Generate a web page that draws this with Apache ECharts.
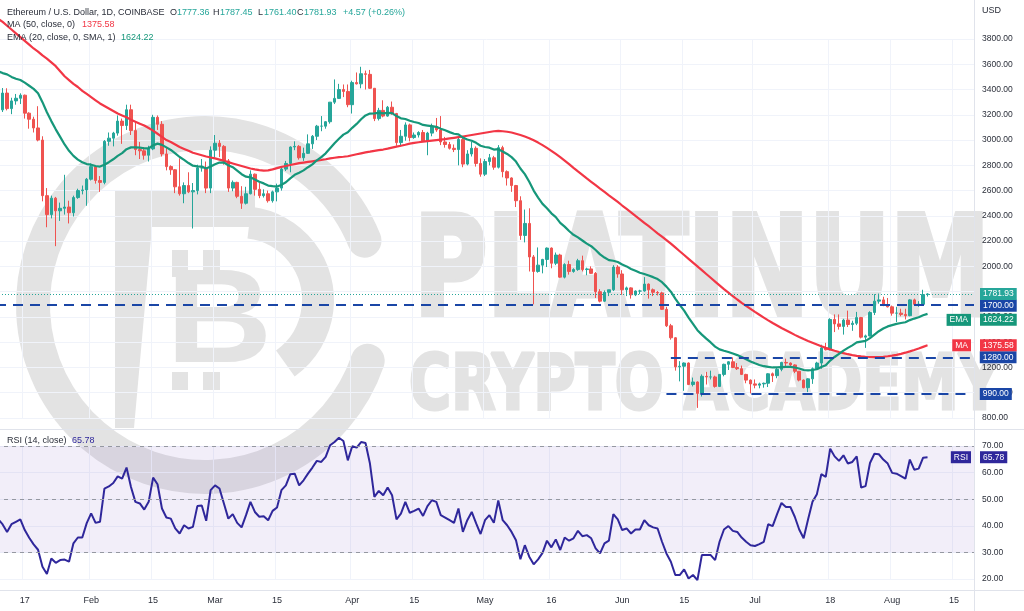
<!DOCTYPE html>
<html>
<head>
<meta charset="utf-8">
<script src="https://cdn.jsdelivr.net/npm/echarts/dist/echarts.min.js"></script>
<style>
  html, body { margin: 0; padding: 0; background: #fff; }
  #chart { width: 1024px; height: 611px; }
</style>
</head>
<body>
<div id="chart"></div>
<script>
// daily candles Jan 11 .. Aug 9 2022, [open, high, low, close]
const candles = [
  // Jan 11-31
  [3081,3260,3060,3239],[3239,3412,3222,3372],[3372,3410,3235,3249],[3249,3335,3205,3310],[3310,3365,3280,3331],
  [3331,3370,3285,3355],[3355,3360,3170,3213],[3213,3220,3090,3165],[3165,3185,3060,3096],[3096,3268,2990,3000],
  [3000,3030,2515,2560],[2560,2620,2310,2410],[2410,2560,2380,2540],[2540,2550,2160,2440],[2440,2505,2360,2460],
  [2460,2725,2410,2470],[2470,2520,2340,2425],[2425,2560,2395,2545],[2545,2615,2535,2600],[2600,2640,2570,2605],
  [2605,2700,2480,2690],
  // Feb
  [2690,2815,2680,2790],[2790,2795,2655,2680],[2680,2715,2590,2665],[2665,3000,2650,2990],[2990,3060,2955,3015],
  [3015,3065,2950,3055],[3055,3195,3035,3150],[3150,3170,2970,3115],[3115,3280,3080,3240],[3240,3280,3040,3075],
  [3075,3140,2880,2925],[2925,2985,2850,2915],[2915,2945,2845,2880],[2880,2955,2830,2930],[2930,3200,2920,3180],
  [3180,3195,3080,3125],[3125,3150,2870,2890],[2890,2940,2760,2790],[2790,2800,2725,2765],[2765,2770,2580,2630],
  [2630,2855,2560,2575],[2575,2665,2500,2640],[2640,2745,2580,2590],[2590,2660,2300,2600],[2600,2805,2570,2780],
  [2780,2850,2750,2780],[2780,2830,2580,2620],[2620,2950,2580,2920],
  // Mar
  [2920,3040,2860,2975],[2975,3000,2865,2950],[2950,2960,2805,2835],[2835,2850,2590,2620],[2620,2680,2595,2665],
  [2665,2670,2540,2555],[2555,2635,2455,2500],[2500,2630,2490,2575],[2575,2760,2570,2730],[2730,2735,2560,2610],
  [2610,2660,2540,2560],[2560,2610,2545,2575],[2575,2600,2505,2520],[2520,2600,2505,2590],[2590,2655,2515,2620],
  [2620,2780,2600,2770],[2770,2835,2755,2815],[2815,2950,2745,2945],[2945,2990,2920,2950],[2950,2960,2845,2860],
  [2860,2940,2835,2895],[2895,3045,2890,2970],[2970,3040,2930,3030],[3030,3120,3000,3110],[3110,3190,3070,3110],
  [3110,3150,3090,3145],[3145,3300,3130,3300],[3300,3480,3285,3330],[3330,3445,3325,3400],[3400,3440,3340,3385],
  [3385,3440,3260,3280],
  // Apr
  [3280,3470,3210,3455],[3455,3535,3440,3445],[3445,3580,3410,3525],[3525,3550,3400,3520],[3520,3555,3405,3410],
  [3410,3410,3150,3170],[3170,3255,3155,3235],[3235,3315,3180,3190],[3190,3270,3185,3260],[3260,3305,3200,3210],
  [3210,3215,2955,2980],[2980,3080,2950,3030],[3030,3140,2995,3120],[3120,3130,2990,3020],[3020,3060,3010,3040],
  [3040,3070,3020,3060],[3060,3080,2985,2990],[2990,3065,2880,3055],[3055,3130,3030,3105],[3105,3175,3065,3080],
  [3080,3190,2960,2985],[2985,3025,2940,2965],[2965,2985,2925,2935],[2935,2965,2905,2925],[2925,3020,2800,3005],
  [3005,3035,2785,2810],[2810,2920,2800,2890],[2890,2985,2870,2935],[2935,2950,2790,2815],[2815,2855,2710,2730],
  // May
  [2730,2850,2715,2830],[2830,2890,2800,2860],[2860,2875,2765,2785],[2785,2960,2775,2940],[2940,2955,2705,2750],
  [2750,2760,2640,2700],[2700,2705,2590,2640],[2640,2645,2470,2520],[2520,2555,2210,2245],[2245,2450,2190,2340],
  [2340,2460,1960,2075],[2075,2090,1700,1960],[1960,2150,1950,2010],[2010,2060,1945,2055],[2055,2150,1995,2145],
  [2145,2150,1985,2025],[2025,2110,2010,2090],[2090,2100,1910,1915],[1915,2025,1905,2015],[2015,2045,1935,1960],
  [1960,1985,1950,1975],[1975,2060,1965,2045],[2045,2085,1960,1975],[1975,1990,1930,1980],[1980,2000,1940,1945],
  [1945,1955,1750,1800],[1800,1820,1715,1725],[1725,1810,1720,1795],[1795,1815,1765,1815],[1815,2010,1805,1995],
  [1995,2010,1910,1940],
  // Jun
  [1940,1970,1775,1815],[1815,1840,1765,1830],[1830,1835,1745,1775],[1775,1810,1765,1805],[1805,1815,1780,1805],
  [1805,1915,1800,1860],[1860,1865,1745,1815],[1815,1825,1765,1795],[1795,1805,1770,1790],[1790,1800,1655,1660],
  [1660,1680,1520,1530],[1530,1545,1420,1435],[1435,1440,1175,1205],[1205,1250,1090,1210],[1210,1240,1015,1235],
  [1235,1240,1060,1065],[1065,1120,1050,1085],[1085,1090,880,995],[995,1145,970,1130],[1130,1165,1065,1125],
  [1125,1175,1105,1125],[1125,1135,1040,1050],[1050,1145,1045,1145],[1145,1230,1130,1225],[1225,1250,1180,1245],
  [1245,1280,1195,1200],[1200,1235,1180,1190],[1190,1215,1140,1145],[1145,1150,1075,1100],[1100,1105,995,1070],
  // Jul
  [1070,1105,1035,1060],[1060,1080,1035,1070],[1070,1080,1040,1075],[1075,1155,1045,1150],[1150,1160,1085,1135],
  [1135,1195,1115,1185],[1185,1245,1170,1240],[1240,1270,1200,1235],[1235,1240,1205,1220],[1220,1225,1155,1170],
  [1170,1170,1090,1100],[1100,1105,1035,1040],[1040,1115,1005,1110],[1110,1200,1070,1190],[1190,1245,1180,1235],
  [1235,1380,1190,1355],[1355,1395,1335,1340],[1340,1590,1335,1580],[1580,1620,1480,1545],[1545,1620,1500,1525],
  [1525,1585,1460,1575],[1575,1650,1520,1540],[1540,1570,1490,1550],[1550,1640,1535,1595],[1595,1600,1430,1440],
  [1440,1460,1355,1450],[1450,1645,1445,1635],[1635,1780,1615,1725],[1725,1785,1705,1735],[1735,1760,1685,1695],
  [1695,1750,1675,1680],
  // Aug 1-9
  [1680,1690,1610,1630],[1630,1680,1560,1630],[1630,1665,1605,1620],[1620,1665,1580,1610],[1610,1740,1605,1735],
  [1735,1745,1690,1700],[1700,1725,1680,1700],[1700,1815,1695,1777.36],[1777.36,1787.45,1761.40,1781.93]
];

// MA (50)
const maValues = [
  3960,3935,3905,3875,3845,3815,3785,3755,3725,3700,3670,3645,3615,3585,3545,3505,3475,3445,3420,3390,3365,
  3340,3315,3290,3270,3250,3230,3210,3195,3180,3160,3145,3130,3115,3095,3075,3050,3025,3000,2985,2965,2945,2930,2915,2900,2890,2880,2870,2862,
  2855,2845,2835,2825,2815,2805,2795,2785,2775,2768,2762,2758,2760,2768,2778,2788,2795,2803,2810,2817,2822,2827,2832,2837,2842,2848,2855,2860,2865,2868,2872,
  2880,2888,2895,2902,2908,2915,2920,2925,2932,2940,2948,2955,2963,2972,2978,2983,2988,2992,2996,3000,3004,3008,3013,3018,3023,3028,3034,3040,3046,3052,
  3058,3064,3070,3072,3070,3066,3060,3050,3040,3028,3015,2998,2980,2960,2938,2915,2890,2865,2838,2810,2780,2752,2725,2697,2670,2643,2616,2590,2563,2537,2510,
  2482,2455,2428,2400,2373,2345,2318,2290,2262,2235,2208,2180,2150,2120,2090,2060,2030,2000,1970,1940,1910,1880,1850,1820,1792,1765,1738,1712,1688,1664,
  1640,1617,1595,1573,1552,1532,1512,1494,1476,1458,1441,1425,1410,1396,1382,1368,1355,1343,1332,1322,1313,1305,1298,1292,1288,1285,1283,1282,1283,1285,1289,
  1294,1300,1308,1317,1327,1338,1350,1363,1375.58
];

// EMA (20)
const emaValues = [
  3545,3530,3520,3500,3485,3475,3455,3430,3405,3370,3300,3220,3150,3085,3025,2965,2915,2875,2845,2825,2810,
  2805,2795,2790,2805,2825,2848,2875,2897,2928,2942,2942,2940,2935,2935,2958,2972,2962,2942,2922,2895,2866,2843,2818,2797,2792,2790,2775,2790,
  2808,2822,2822,2800,2785,2758,2730,2710,2705,2688,2670,2657,2640,2635,2632,2645,2666,2697,2725,2742,2760,2785,2808,2840,2865,2895,2935,2975,3010,3043,3062,
  3097,3128,3165,3195,3210,3212,3215,3212,3215,3213,3190,3172,3167,3153,3143,3135,3120,3115,3110,3105,3090,3077,3063,3050,3045,3020,3005,2995,2978,2955,
  2945,2940,2925,2928,2910,2890,2865,2830,2775,2730,2670,2600,2545,2495,2460,2420,2390,2345,2315,2280,2250,2230,2205,2180,2160,2130,2095,2070,2050,2045,2035,
  2015,2000,1980,1965,1950,1940,1928,1915,1900,1875,1840,1800,1745,1695,1650,1595,1545,1495,1460,1428,1398,1365,1343,1332,1322,1310,1298,1283,1265,1248,
  1233,1220,1210,1205,1200,1200,1203,1205,1205,1200,1192,1180,1177,1180,1186,1203,1218,1255,1283,1308,1333,1355,1375,1398,1405,1410,1432,1460,1487,1508,1525,
  1535,1545,1552,1558,1575,1587,1597,1613,1624.22
];

// RSI (14)
const rsiValues = [
  42.5,40.5,37.7,40.6,41.5,42.4,38.4,35.5,33.0,31.0,24.6,21.9,27.7,26.1,27.1,27.3,26.5,33.4,35.6,35.6,41.0,
  44.7,41.1,41.5,54.0,54.8,56.1,58.6,57.7,61.9,54.6,49.0,48.4,46.1,49.0,58.1,55.6,46.5,43.1,42.7,39.0,37.1,40.2,39.0,39.6,47.4,47.6,41.9,53.4,
  55.2,54.0,48.4,42.7,44.4,41.1,39.4,44.0,49.0,45.2,43.4,43.6,42.1,45.6,46.9,53.4,55.2,59.4,59.6,55.2,57.1,59.6,61.9,64.4,64.0,65.9,70.3,71.5,73.1,71.9,64.6,
  69.9,69.4,71.5,71.1,63.4,50.9,53.1,51.5,54.4,51.5,42.4,44.6,49.0,44.9,45.6,46.5,43.7,47.4,49.6,49.0,44.0,43.1,42.1,41.1,46.5,37.7,42.1,45.2,40.9,36.9,
  42.1,44.0,41.1,49.5,42.1,40.2,37.7,34.6,27.4,32.7,28.4,25.5,27.4,29.8,34.4,31.9,34.9,30.9,35.6,34.4,35.3,38.1,36.1,36.5,35.3,31.5,29.6,33.4,34.4,44.4,42.4,
  38.4,39.0,37.1,38.6,38.6,42.1,40.2,39.4,39.0,34.0,29.6,26.5,21.5,21.5,23.6,20.2,21.5,19.6,29.0,29.0,29.0,27.1,34.0,38.6,39.9,38.1,37.7,35.6,34.0,32.7,
  32.4,33.1,34.0,40.6,39.9,44.4,48.6,47.1,47.1,43.4,38.6,35.3,42.4,49.0,51.9,59.4,58.4,69.0,66.1,64.4,66.5,63.4,64.0,66.1,54.4,54.9,63.6,67.1,66.9,64.9,63.4,
  59.9,59.6,58.7,57.7,64.9,61.1,61.5,65.6,65.78
];

// horizontal levels drawn on the chart
const levelFull = 1700;
const levelShort = [ { from: '2022-06-12', value: 1280 }, { from: '2022-06-11', value: 990 } ];

// time axis ticks
const tickDates = ['2022-01-17','2022-02-01','2022-02-15','2022-03-01','2022-03-15','2022-04-01','2022-04-15',
  '2022-05-01','2022-05-16','2022-06-01','2022-06-15','2022-07-01','2022-07-18','2022-08-01','2022-08-15'];
const tickTexts = ['17','Feb','15','Mar','15','Apr','15','May','16','Jun','15','Jul','18','Aug','15'];

// category days, Jan 11 to Aug 19 (last 10 empty)
const dates = [];
for (let i = 0; i < 221; i++) {
  dates.push(new Date(Date.UTC(2022, 0, 11 + i)).toISOString().slice(0, 10));
}
const tickMap = {};
tickDates.forEach((d, i) => { tickMap[d] = tickTexts[i]; });
const isTick = (idx, v) => tickMap[v] !== undefined;

const FONT = '"Liberation Sans", Arial, sans-serif';
const NARROW = '"Liberation Sans Narrow", "DejaVu Sans Condensed", sans-serif';
const UP = '#26a69a', DOWN = '#ef5350';
const MA_C = '#f23645', EMA_C = '#16977a', RSI_C = '#2f279b', BLUE = '#1a46a6';
const TXT = '#2a2e39', GRIDC = '#f0f3fa', SEP = '#e0e3eb', WM = '#e3e3e3';
const HIDDEN = { color: 'rgba(0,0,0,0)', width: 0 };

const last = candles[candles.length - 1];
const prev = candles[candles.length - 2];
const chg = last[3] - prev[3];
const maLast = maValues[maValues.length - 1];
const emaLast = emaValues[emaValues.length - 1];
const rsiLast = rsiValues[rsiValues.length - 1];
const lastCat = dates[dates.length - 1];

function box(text, bg, pos, dy) {
  return {
    show: true, position: pos || 'end', distance: pos ? 3 : 6, formatter: text, offset: [0, dy || 0],
    color: '#fff', backgroundColor: bg, padding: [2, 3, 1, 3], fontSize: 8.5, fontFamily: FONT
  };
}
function txt(x, y, text, color, size) {
  return { type: 'text', x: x, y: y, z: 20, silent: true,
    style: { text: text, fill: color, font: (size || 9) + 'px ' + FONT, verticalAlign: 'middle', align: 'left' } };
}

const chart = echarts.init(document.getElementById('chart'));

const option = {
  animation: false,
  backgroundColor: '#ffffff',
  textStyle: { fontFamily: FONT },
  grid: [
    { left: -4, right: 50, top: 39, height: 379, outerBoundsMode: 'none' },
    { left: -4, right: 50, top: 446, height: 133, outerBoundsMode: 'none' }
  ],
  xAxis: [
    { type: 'category', gridIndex: 0, data: dates, boundaryGap: true,
      axisLine: { show: false }, axisTick: { show: false }, axisLabel: { show: false },
      splitLine: { show: true, interval: isTick, lineStyle: { color: GRIDC } } },
    { type: 'category', gridIndex: 1, data: dates, boundaryGap: true, offset: 11,
      axisLine: { show: false }, axisTick: { show: false },
      axisLabel: { interval: isTick, formatter: v => tickMap[v] || '', color: TXT, fontSize: 9, margin: 6 },
      splitLine: { show: true, interval: isTick, lineStyle: { color: GRIDC } } }
  ],
  yAxis: [
    { type: 'value', gridIndex: 0, position: 'right', min: 800, max: 3800, interval: 200,
      axisLine: { show: false }, axisTick: { show: false },
      axisLabel: { formatter: v => v.toFixed(2), color: TXT, fontSize: 8.5, margin: 8 },
      splitLine: { lineStyle: { color: GRIDC } } },
    { type: 'value', gridIndex: 1, position: 'right', min: 20, max: 70, interval: 10,
      axisLine: { show: false }, axisTick: { show: false },
      axisLabel: { formatter: v => v.toFixed(2), color: TXT, fontSize: 8.5, margin: 8 },
      splitLine: { lineStyle: { color: GRIDC } } }
  ],
  graphic: [
    // watermark
    { type: 'arc', z: 0, silent: true, shape: { cx: 205, cy: 305, r: 172, startAngle: 0.33, endAngle: 5.9, clockwise: true },
      style: { stroke: WM, lineWidth: 34, fill: 'none', lineCap: 'round' } },
    { type: 'polygon', z: 0, silent: true, shape: { points: [[115,190],[255,190],[255,227],[152,227],[134,428],[115,428]] },
      style: { fill: WM } },
    { type: 'arc', z: 0, silent: true, shape: { cx: 240, cy: 300, r: 78, startAngle: -1.45, endAngle: 0.95, clockwise: true },
      style: { stroke: WM, lineWidth: 32, fill: 'none' } },
    { type: 'text', z: 0, silent: true, x: 166, y: 325, scaleX: 1.1,
      style: { text: 'B', font: 'bold 134px ' + FONT, fill: WM, verticalAlign: 'middle' } },
    { type: 'rect', z: 0, silent: true, shape: { x: 172, y: 250, width: 16, height: 27 }, style: { fill: WM } },
    { type: 'rect', z: 0, silent: true, shape: { x: 203, y: 250, width: 17, height: 27 }, style: { fill: WM } },
    { type: 'rect', z: 0, silent: true, shape: { x: 172, y: 372, width: 16, height: 18 }, style: { fill: WM } },
    { type: 'rect', z: 0, silent: true, shape: { x: 203, y: 372, width: 17, height: 18 }, style: { fill: WM } },
    { type: 'text', z: 0, silent: true, x: 414, y: 279, scaleX: 0.8,
      style: { text: 'PLATINUM', font: 'bold 139px ' + NARROW, fill: WM, stroke: WM, lineWidth: 5, verticalAlign: 'middle' } },
    { type: 'text', z: 0, silent: true, x: 409, y: 389, scaleX: 0.84,
      style: { text: 'CRYPTO ACADEMY', font: 'bold 76px ' + NARROW, fill: WM, stroke: WM, lineWidth: 3, verticalAlign: 'middle' } },
    // pane borders
    { type: 'line', z: 5, silent: true, shape: { x1: 974.5, y1: 0, x2: 974.5, y2: 611 }, style: { stroke: SEP, lineWidth: 1 } },
    { type: 'line', z: 5, silent: true, shape: { x1: 0, y1: 429.5, x2: 1024, y2: 429.5 }, style: { stroke: SEP, lineWidth: 1 } },
    { type: 'line', z: 5, silent: true, shape: { x1: 0, y1: 590.5, x2: 1024, y2: 590.5 }, style: { stroke: SEP, lineWidth: 1 } },
    // legends
    txt(7, 12.5, 'Ethereum / U.S. Dollar, 1D, COINBASE', TXT),
    txt(170, 12.5, 'O', TXT), txt(177, 12.5, last[0].toFixed(2), UP),
    txt(213, 12.5, 'H', TXT), txt(220, 12.5, last[1].toFixed(2), UP),
    txt(258, 12.5, 'L', TXT), txt(264, 12.5, last[2].toFixed(2), UP),
    txt(297, 12.5, 'C', TXT), txt(304, 12.5, last[3].toFixed(2), UP),
    txt(343, 12.5, '+' + chg.toFixed(2) + ' (+' + (chg / prev[3] * 100).toFixed(2) + '%)', UP),
    txt(7, 25, 'MA (50, close, 0)', TXT), txt(82, 25, maLast.toFixed(2), MA_C),
    txt(7, 38, 'EMA (20, close, 0, SMA, 1)', TXT), txt(121, 38, emaLast.toFixed(2), EMA_C),
    txt(7, 441, 'RSI (14, close)', TXT), txt(72, 441, rsiLast.toFixed(2), RSI_C),
    txt(982, 11, 'USD', TXT)
  ],
  series: [
    {
      name: 'ETHUSD', type: 'candlestick', xAxisIndex: 0, yAxisIndex: 0,
      data: candles.map(c => [c[0], c[3], c[2], c[1]]),
      barWidth: 3,
      itemStyle: { color: UP, color0: DOWN, borderColor: UP, borderColor0: DOWN, borderWidth: 1 },
      markLine: {
        symbol: ['none', 'none'], silent: true, animation: false,
        data: [
          { yAxis: levelFull, lineStyle: { color: BLUE, width: 2, type: [10, 7] }, label: box(levelFull.toFixed(2), BLUE, null, 1.5) },
          [ { xAxis: levelShort[0].from, yAxis: levelShort[0].value, lineStyle: { color: BLUE, width: 2, type: [10, 7] },
              label: Object.assign(box(levelShort[0].value.toFixed(2), BLUE), { distance: 8 }) },
            { xAxis: lastCat, yAxis: levelShort[0].value } ],
          [ { xAxis: levelShort[1].from, yAxis: levelShort[1].value, lineStyle: { color: BLUE, width: 2, type: [10, 7] },
              label: Object.assign(box(levelShort[1].value.toFixed(2), BLUE), { distance: 8 }) },
            { xAxis: lastCat, yAxis: levelShort[1].value } ],
          { yAxis: last[3], lineStyle: { color: UP, width: 1, type: [1, 2] }, label: box(last[3].toFixed(2), UP) },
          { yAxis: emaLast, lineStyle: HIDDEN, label: box(emaLast.toFixed(2), EMA_C, null, 6) },
          { yAxis: emaLast, lineStyle: HIDDEN, label: box('EMA', EMA_C, 'insideEnd', 6) },
          { yAxis: maLast, lineStyle: HIDDEN, label: box(maLast.toFixed(2), MA_C) },
          { yAxis: maLast, lineStyle: HIDDEN, label: box('MA', MA_C, 'insideEnd') }
        ]
      }
    },
    {
      name: 'MA 50', type: 'line', xAxisIndex: 0, yAxisIndex: 0, data: maValues, clip: false,
      symbol: 'none', lineStyle: { color: MA_C, width: 2.2 }, itemStyle: { color: MA_C }, z: 3
    },
    {
      name: 'EMA 20', type: 'line', xAxisIndex: 0, yAxisIndex: 0, data: emaValues,
      symbol: 'none', lineStyle: { color: EMA_C, width: 2.2 }, itemStyle: { color: EMA_C }, z: 3
    },
    {
      name: 'RSI', type: 'line', xAxisIndex: 1, yAxisIndex: 1, data: rsiValues, clip: false,
      symbol: 'none', lineStyle: { color: RSI_C, width: 2 }, itemStyle: { color: RSI_C }, z: 3,
      markArea: { silent: true, itemStyle: { color: 'rgba(126, 87, 194, 0.1)' }, data: [[{ yAxis: 30 }, { yAxis: 70 }]] },
      markLine: {
        symbol: ['none', 'none'], silent: true, animation: false,
        data: [
          { yAxis: 70, lineStyle: { color: '#9598a1', width: 1, type: [4, 4] }, label: { show: false } },
          { yAxis: 50, lineStyle: { color: '#9598a1', width: 1, type: [4, 4] }, label: { show: false } },
          { yAxis: 30, lineStyle: { color: '#9598a1', width: 1, type: [4, 4] }, label: { show: false } },
          { yAxis: rsiLast, lineStyle: HIDDEN, label: box(rsiLast.toFixed(2), RSI_C) },
          { yAxis: rsiLast, lineStyle: HIDDEN, label: box('RSI', RSI_C, 'insideEnd') }
        ]
      }
    }
  ]
};

chart.setOption(option);
window.addEventListener('resize', function () { chart.resize(); });
</script>
</body>
</html>
